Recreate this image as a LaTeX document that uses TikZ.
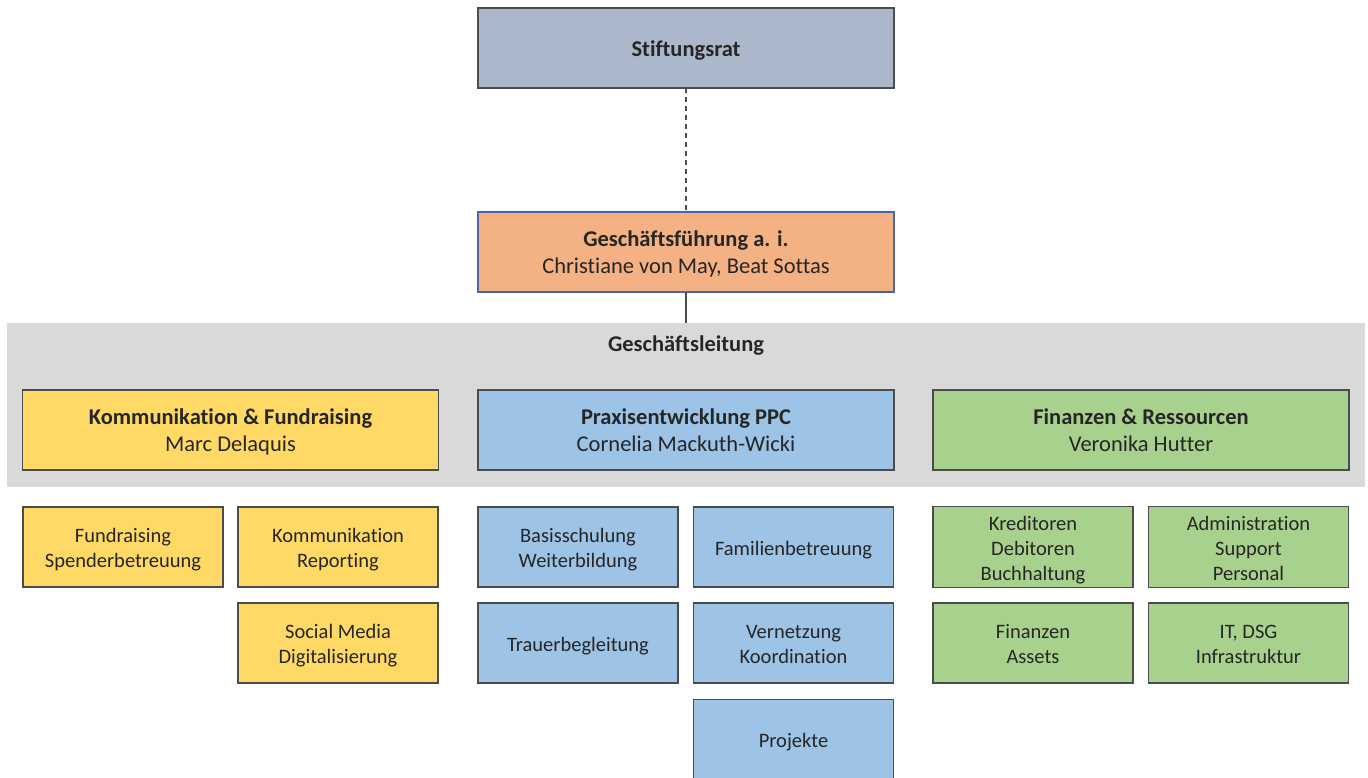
\documentclass[tikz,border=0pt]{standalone}
\usepackage{fontspec}
\setmainfont[Ligatures=NoCommon]{Carlito}
\newcommand\tstr{\rule{0pt}{\dimexpr0.7\baselineskip+6pt\relax}}
\begin{document}
\begin{tikzpicture}[x=1pt,y=-1pt,
  every node/.style={inner sep=0pt,outer sep=0pt,text=black!85},
  box/.style={draw=black!70,line width=1.2pt,minimum width=416pt,minimum height=80pt,align=center,font=\fontsize{22.5}{27}\selectfont},
  sub/.style={draw=black!70,line width=1.2pt,minimum width=200pt,minimum height=80pt,align=center,font=\fontsize{20.5}{25}\selectfont},
  conn/.style={black!70,line width=1.2pt}]
\definecolor{cRat}{HTML}{ABB7CB}
\definecolor{cGF}{HTML}{F4B183}
\definecolor{cGL}{HTML}{D9D9D9}
\definecolor{cY}{HTML}{FFD966}
\definecolor{cB}{HTML}{9DC3E6}
\definecolor{cG}{HTML}{A9D18E}
\definecolor{cGFb}{HTML}{4A66A8}
\useasboundingbox (0,0) rectangle (1368,778);
\fill[cGL] (7,323) rectangle (1365,487);
\node[anchor=center,font=\fontsize{22.5}{27}\selectfont\bfseries] (gl) at (686,346) {Geschäftsleitung};
\node[box,fill=cRat] (rat) at (686,48) {\tstr\strut\textbf{Stiftungsrat}};
\node[box,fill=cGF,draw=cGFb] (gf) at (686,252) {\tstr\strut\textbf{Geschäftsführung a. i.}\\\strut Christiane von May, Beat Sottas};
\draw[conn,dashed,dash pattern=on 5pt off 4pt] (rat.south) -- (gf.north);
\coordinate (band) at (686,323);
\draw[conn] (gf.south) -- (band);
\node[box,fill=cY] (kf) at (230.5,430) {\tstr\strut\textbf{Kommunikation \& Fundraising}\\\strut Marc Delaquis};
\node[box,fill=cB] (pe) at (686,430) {\tstr\strut\textbf{Praxisentwicklung PPC}\\\strut Cornelia Mackuth-Wicki};
\node[box,fill=cG] (fr) at (1141,430) {\tstr\strut\textbf{Finanzen \& Ressourcen}\\\strut Veronika Hutter};
% yellow
\node[sub,fill=cY] (y1) at (123,547) {\tstr\strut Fundraising\\\strut Spenderbetreuung};
\node[sub,fill=cY] (y2) at (338,547) {\tstr\strut Kommunikation\\\strut Reporting};
\node[sub,fill=cY] (y3) at (338,643) {\tstr\strut Social Media\\\strut Digitalisierung};
% blue
\node[sub,fill=cB] (b1) at (578,547) {\tstr\strut Basisschulung\\\strut Weiterbildung};
\node[sub,fill=cB] (b2) at (793.5,547) {\tstr\strut Familienbetreuung};
\node[sub,fill=cB] (b3) at (578,643) {\tstr\strut Trauerbegleitung};
\node[sub,fill=cB] (b4) at (793.5,643) {\tstr\strut Vernetzung\\\strut Koordination};
\node[sub,fill=cB] (b5) at (793.5,739.5) {\tstr\strut Projekte};
% green
\node[sub,fill=cG] (g1) at (1033,547) {\tstr\strut Kreditoren\\\strut Debitoren\\\strut Buchhaltung};
\node[sub,fill=cG] (g2) at (1248.5,547) {\tstr\strut Administration\\\strut Support\\\strut Personal};
\node[sub,fill=cG] (g3) at (1033,643) {\tstr\strut Finanzen\\\strut Assets};
\node[sub,fill=cG] (g4) at (1248.5,643) {\tstr\strut IT, DSG\\\strut Infrastruktur};
\end{tikzpicture}
\end{document}
